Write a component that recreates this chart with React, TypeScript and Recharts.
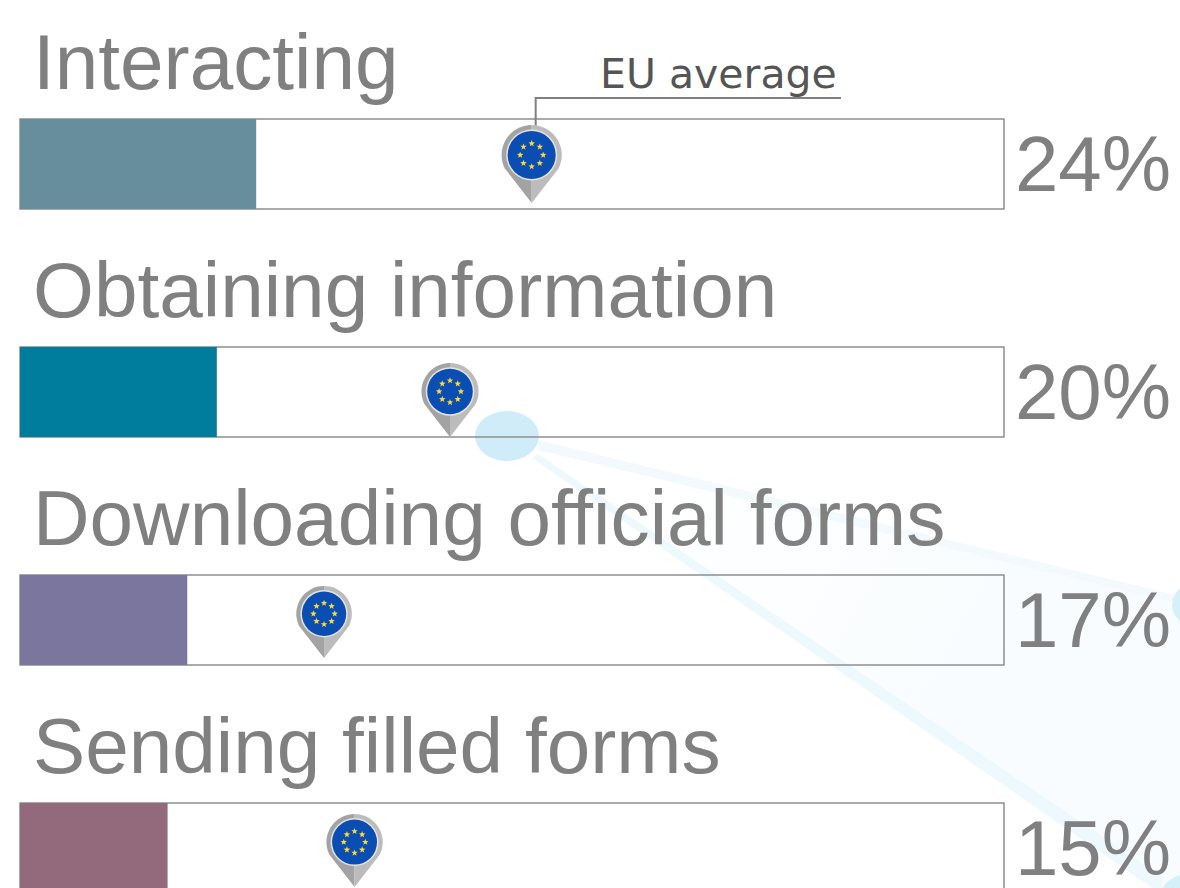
import { Bar, ComposedChart, LabelList, Line, XAxis, YAxis } from "recharts";

const categories = [
    "Interacting",
    "Obtaining information",
    "Downloading official forms",
    "Sending filled forms",
];
const shares = [24, 20, 17, 15];
const euAverages = [52, 43.7, 30.9, 34];
const barColors = ["#668e9c", "#007c9c", "#7b769e", "#936a7b"];

// pin top and tip relative to the row centre, the pins are not all the same size
const pinTops = [-39, -29, -34, -34];
const pinTips = [39, 45, 38, 39];

const data = categories.map((name, i) => ({
    name,
    share: shares[i],
    eu: euAverages[i],
}));

const starAngles = [0, 45, 90, 135, 180, 225, 270, 315];

function starPath(cx: number, cy: number, r: number) {
    const pts = [];
    for (let i = 0; i < 10; i++) {
        const a = (Math.PI / 5) * i - Math.PI / 2;
        const d = i % 2 === 0 ? r : r * 0.42;
        pts.push(`${cx + d * Math.cos(a)},${cy + d * Math.sin(a)}`);
    }
    return pts.join(" ");
}

function Pin({ cx, cy, index }: any) {
    const top = cy + pinTops[index];
    const tip = cy + pinTips[index];
    const h = tip - top;
    const r = h * 0.385;
    const c = top + r;
    const inner = r * 0.8;
    const sx = r * 0.9;
    const sy = c + r * 0.44;
    return (
        <g>
            {index === 0 && (
                <g>
                    <polyline
                        points={`${cx + 4},${top + 1} ${cx + 4},98 841,98`}
                        fill="none"
                        stroke="#808080"
                        strokeWidth={2}
                    />
                    <text x={600} y={88} fontFamily="DejaVu Sans" fontSize={41} fill="#555555">
                        EU average
                    </text>
                </g>
            )}
            <path
                d={`M ${cx} ${top} A ${r} ${r} 0 0 0 ${cx - sx} ${sy} L ${cx} ${tip} Z`}
                fill="#a3a3a3"
            />
            <path
                d={`M ${cx} ${top} A ${r} ${r} 0 0 1 ${cx + sx} ${sy} L ${cx} ${tip} Z`}
                fill="#bcbcbc"
            />
            <circle cx={cx} cy={c} r={inner + 1.5} fill="#e4e4e4" />
            <circle cx={cx} cy={c} r={inner} fill="#0a4db3" />
            {starAngles.map((deg) => {
                const a = (deg * Math.PI) / 180;
                return (
                    <polygon
                        key={deg}
                        points={starPath(cx + inner * 0.48 * Math.cos(a), c + inner * 0.48 * Math.sin(a), 3.4)}
                        fill="#ffd935"
                    />
                );
            })}
        </g>
    );
}

function NameLabel({ x, y, value }: any) {
    return (
        <text x={x + 13} y={y - 30} fontFamily="Liberation Sans" fontSize={78.3} fill="#808080">
            {value}
        </text>
    );
}

function ShareTick({ y, index }: any) {
    return (
        <text x={1171} y={y + 27} textAnchor="end" fontFamily="Liberation Sans" fontSize={78} fill="#808080">
            {shares[index]}%
        </text>
    );
}

// the faint light trail behind the chart
function Backdrop() {
    return (
        <svg width={1180} height={888} style={{ position: "absolute", left: 0, top: 0 }}>
            <defs>
                <linearGradient id="trailFill" gradientUnits="userSpaceOnUse" x1={640} y1={480} x2={1000} y2={680}>
                    <stop offset="0" stopColor="#f8fcfe" stopOpacity={0} />
                    <stop offset="1" stopColor="#f8fcfe" stopOpacity={1} />
                </linearGradient>
            </defs>
            <polygon points="538,443 1180,600 1180,888 1162,888 538,457" fill="url(#trailFill)" />
            <polygon points="538,440 1180,596 1180,604 538,450" fill="#f3fafd" />
            <polygon points="538,454 1162,877 1162,888 1152,888 532,458" fill="#edf9fe" />
            <ellipse cx={507} cy={436} rx={32} ry={25} fill="#cfecf8" />
            <ellipse cx={1204} cy={605} rx={32} ry={25} fill="#d6f0fa" />
            <ellipse cx={1192} cy={898} rx={32} ry={25} fill="#d6f0fa" />
        </svg>
    );
}

export default function App() {
    return (
        <div
            style={{
                position: "absolute",
                left: 0,
                top: 0,
                width: 1180,
                height: 888,
                overflow: "hidden",
                background: "#ffffff",
            }}
        >
            <Backdrop />
            <div style={{ position: "absolute", left: 0, top: 0 }}>
                <ComposedChart
                    width={1180}
                    height={962}
                    data={data}
                    layout="vertical"
                    margin={{ top: 50, right: 0, bottom: 0, left: 20 }}
                >
                    <XAxis type="number" domain={[0, 100]} hide />
                    <YAxis
                        type="category"
                        dataKey="name"
                        orientation="right"
                        width={176}
                        axisLine={false}
                        tickLine={false}
                        tick={<ShareTick />}
                        interval={0}
                    />
                    <Bar
                        dataKey="share"
                        barSize={90}
                        isAnimationActive={false}
                        background={{ fill: "none", stroke: "#8f8f8f", strokeWidth: 1.5 }}
                        shape={(props: any) => (
                            <rect
                                x={props.x}
                                y={props.y}
                                width={props.width}
                                height={props.height}
                                fill={barColors[props.index]}
                            />
                        )}
                    >
                        <LabelList dataKey="name" content={<NameLabel />} />
                    </Bar>
                    <Line
                        dataKey="eu"
                        stroke="none"
                        isAnimationActive={false}
                        dot={(props: any) => <Pin key={props.index} {...props} />}
                        activeDot={false}
                    />
                </ComposedChart>
            </div>
        </div>
    );
}
